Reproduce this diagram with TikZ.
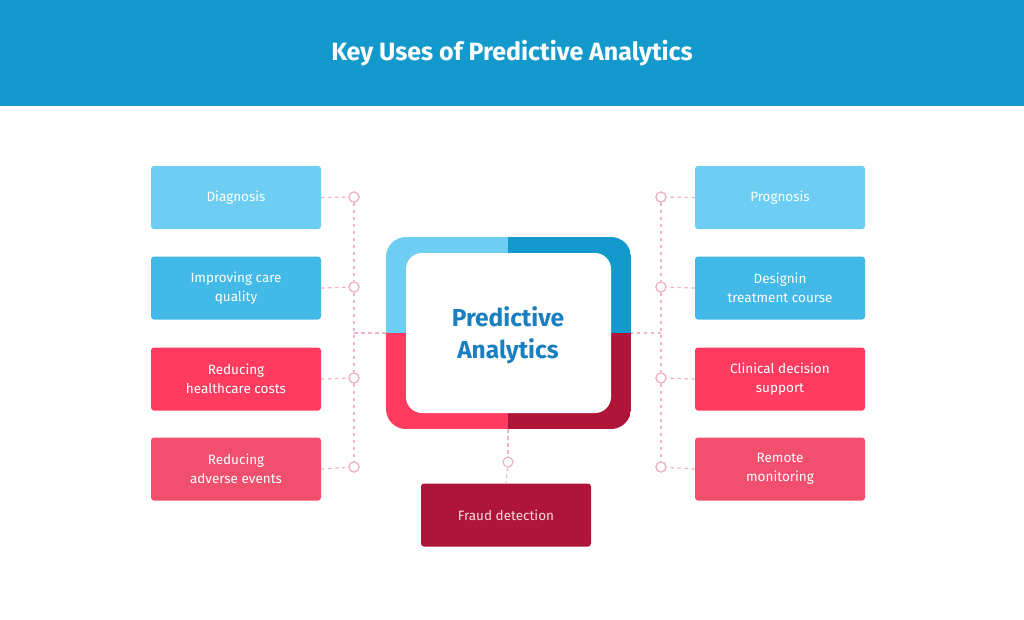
\documentclass[tikz,border=0pt]{standalone}
\usepackage{fontspec}
\setmainfont{Fira Sans}
\definecolor{hdr}{HTML}{1399CC}
\definecolor{lblue}{HTML}{6DCDF3}
\definecolor{mblue}{HTML}{42B9E6}
\definecolor{red1}{HTML}{FF3B5F}
\definecolor{red2}{HTML}{F04F6E}
\definecolor{dred}{HTML}{AE1538}
\definecolor{dash}{HTML}{F0B4C4}
\definecolor{ctext}{HTML}{1A7FC0}
\begin{document}
\begin{tikzpicture}[x=1pt,y=-1pt,
  item/.style={rounded corners=3pt, minimum width=170pt, minimum height=63pt, inner sep=0pt,
    text=white, align=center, font=\fontsize{13.5}{19}\selectfont},
  link/.style={draw=dash, line width=1.2pt, dash pattern=on 3.5pt off 3.5pt},
  dot/.style={circle, draw=dash, fill=white, line width=1.2pt, minimum size=10pt, inner sep=0pt}]
\useasboundingbox (0,0) rectangle (1024,619);
\fill[white] (0,0) rectangle (1024,619);
\fill[hdr] (0,0) rectangle (1024,106);
\node[text=white, font=\fontsize{25}{29}\selectfont\bfseries] (title) at (512,53) {Key Uses of Predictive Analytics};
% left boxes
\node[item, fill=lblue] (diag) at (236,197.5) {Diagnosis};
\node[item, fill=mblue] (care) at (236,288) {Improving care\\quality};
\node[item, fill=red1] (cost) at (236,379) {Reducing\\healthcare costs};
\node[item, fill=red2] (adv) at (236,469) {Reducing\\adverse events};
% right boxes
\node[item, fill=lblue] (prog) at (780,197.5) {Prognosis};
\node[item, fill=mblue] (treat) at (780,288) {Designin\\treatment course};
\node[item, fill=red1] (clin) at (780,379) {Clinical decision\\support};
\node[item, fill=red2] (remote) at (780,469) {Remote\\monitoring};
% bottom
\node[item, fill=dred, text=white!85!dred] (fraud) at (506,515) {Fraud detection};
% central frame
\begin{scope}
\clip[rounded corners=20pt] (386,237) rectangle (631,429);
\fill[lblue] (386,237) rectangle (508,333);
\fill[hdr] (508,237) rectangle (631,333);
\fill[red1] (386,333) rectangle (508,429);
\fill[dred] (508,333) rectangle (631,429);
\end{scope}
\node[fill=white, rounded corners=16pt, minimum width=205pt, minimum height=160pt, inner sep=0pt] (core) at (508.5,333) {};
\node[text=ctext, align=center, font=\fontsize{24.5}{32}\selectfont\bfseries] (ctitle) at (508,335) {Predictive\\Analytics};
% connectors
\coordinate (lj) at (354,333);
\coordinate (rj) at (661,333);
\node[dot] (l1) at (354,197) {};
\node[dot] (l2) at (354,287) {};
\node[dot] (l3) at (354,378) {};
\node[dot] (l4) at (354,467) {};
\node[dot] (r1) at (661,197) {};
\node[dot] (r2) at (661,287) {};
\node[dot] (r3) at (661,378) {};
\node[dot] (r4) at (661,467) {};
\node[dot] (fd) at (508,462) {};
\draw[link] (l1) -- (l2); \draw[link] (l2) -- (l3); \draw[link] (l3) -- (l4);
\draw[link] (r1) -- (r2); \draw[link] (r2) -- (r3); \draw[link] (r3) -- (r4);
\draw[link] (diag.east) -- (l1); \draw[link] (care.east) -- (l2);
\draw[link] (cost.east) -- (l3); \draw[link] (adv.east) -- (l4);
\draw[link] (prog.west) -- (r1); \draw[link] (treat.west) -- (r2);
\draw[link] (clin.west) -- (r3); \draw[link] (remote.west) -- (r4);
\draw[link] (lj) -- (386,333);
\draw[link] (rj) -- (631,333);
\draw[link] (508,429) -- (fd); \draw[link] (fd) -- (fraud.north);
\node[dot] at (l1) {}; \node[dot] at (l2) {}; \node[dot] at (l3) {}; \node[dot] at (l4) {};
\node[dot] at (r1) {}; \node[dot] at (r2) {}; \node[dot] at (r3) {}; \node[dot] at (r4) {};
\end{tikzpicture}
\end{document}
